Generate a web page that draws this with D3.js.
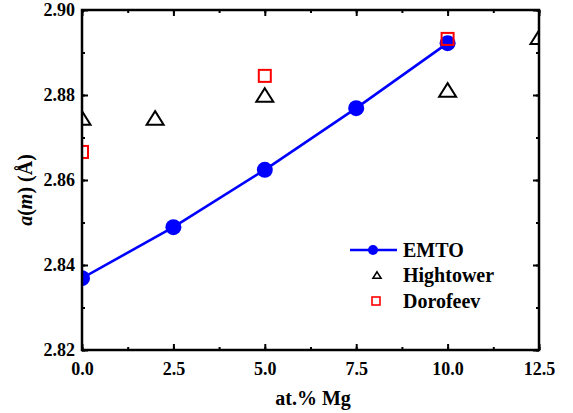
<!DOCTYPE html>
<html>
<head>
<meta charset="utf-8">
<script src="https://cdn.jsdelivr.net/npm/d3@7"></script>
<style>
  html, body { margin: 0; padding: 0; background: #fff; }
  svg { display: block; }
</style>
</head>
<body>
<svg id="chart" width="573" height="413"></svg>
<script>
// Lattice parameter vs. Mg content
const emtoX = [0, 2.5, 5.0, 7.5, 10.0];
const emtoY = [2.8369, 2.8489, 2.8624, 2.8769, 2.8922];
const hightowerX = [0, 2, 5, 10, 12.5];
const hightowerY = [2.8746, 2.8746, 2.8800, 2.8812, 2.8936];
const dorofeevX = [0, 5, 10];
const dorofeevY = [2.8666, 2.8845, 2.8932];
const xTicks = [0, 2.5, 5.0, 7.5, 10.0, 12.5];
const yTicks = [2.82, 2.84, 2.86, 2.88, 2.90];
const seriesNames = ["EMTO", "Hightower", "Dorofeev"];

const svg = d3.select("#chart");
const m = { left: 82, top: 10, right: 539, bottom: 350 };
const x = d3.scaleLinear().domain([0, 12.5]).range([m.left, m.right]);
const y = d3.scaleLinear().domain([2.82, 2.90]).range([m.bottom, m.top]);
const font = "Liberation Serif";
const blue = "#0000ff";

svg.append("defs").append("clipPath").attr("id", "plot")
  .append("rect").attr("x", m.left).attr("y", m.top)
  .attr("width", m.right - m.left).attr("height", m.bottom - m.top);

const data = svg.append("g").attr("clip-path", "url(#plot)");

// EMTO line and points
const emto = emtoX.map((v, i) => [v, emtoY[i]]);
data.append("path").datum(emto)
  .attr("d", d3.line().x(d => x(d[0])).y(d => y(d[1])))
  .attr("fill", "none").attr("stroke", blue).attr("stroke-width", 2.6);
data.selectAll("circle.emto").data(emto).join("circle")
  .attr("cx", d => x(d[0])).attr("cy", d => y(d[1])).attr("r", 8)
  .attr("fill", blue);

// Hightower triangles
const tri = (cx, cy, w) => {
  const h = w * 0.8;
  return `M${cx},${cy - h / 2}L${cx + w / 2},${cy + h / 2}L${cx - w / 2},${cy + h / 2}Z`;
};
data.selectAll("path.ht").data(hightowerX.map((v, i) => [v, hightowerY[i]])).join("path")
  .attr("d", d => tri(x(d[0]), y(d[1]), 17))
  .attr("fill", "none").attr("stroke", "#000").attr("stroke-width", 2);

// Dorofeev squares
data.selectAll("rect.df").data(dorofeevX.map((v, i) => [v, dorofeevY[i]])).join("rect")
  .attr("x", d => x(d[0]) - 6).attr("y", d => y(d[1]) - 6)
  .attr("width", 12).attr("height", 12)
  .attr("fill", "none").attr("stroke", "#ff0000").attr("stroke-width", 2);

// Axes: inward major + minor ticks on all four sides
const xMinor = d3.range(0, 12.51, 1.25);
const yMinor = d3.range(0, 9).map(i => 2.82 + i * 0.01);
function styleAxis(g) {
  g.attr("font-family", font);
  g.select(".domain").remove();
  g.selectAll(".tick line").attr("stroke", "#000").attr("stroke-width", 2);
}
svg.append("g").attr("transform", `translate(0,${m.bottom})`)
  .call(d3.axisBottom(x).tickValues(xMinor).tickSize(-3).tickFormat("")).call(styleAxis);
svg.append("g").attr("transform", `translate(0,${m.bottom})`)
  .call(d3.axisBottom(x).tickValues(xTicks).tickSizeInner(-6).tickSizeOuter(0).tickFormat(d3.format(".1f")))
  .call(styleAxis)
  .call(g => g.selectAll("text").attr("font-size", 18).attr("font-weight", "bold").attr("fill", "#000")
    .attr("font-family", font).attr("dy", "0.71em").attr("y", 12));
svg.append("g").attr("transform", `translate(0,${m.top})`)
  .call(d3.axisTop(x).tickValues(xMinor).tickSize(-3).tickFormat("")).call(styleAxis);
svg.append("g").attr("transform", `translate(0,${m.top})`)
  .call(d3.axisTop(x).tickValues(xTicks).tickSize(-6).tickFormat("")).call(styleAxis);

svg.append("g").attr("transform", `translate(${m.left},0)`)
  .call(d3.axisLeft(y).tickValues(yMinor).tickSize(-3).tickFormat("")).call(styleAxis);
svg.append("g").attr("transform", `translate(${m.left},0)`)
  .call(d3.axisLeft(y).tickValues(yTicks).tickSizeInner(-6).tickSizeOuter(0).tickFormat(d3.format(".2f")))
  .call(styleAxis)
  .call(g => g.selectAll("text").attr("font-size", 18).attr("font-weight", "bold").attr("fill", "#000")
    .attr("font-family", font).attr("x", -7));
svg.append("g").attr("transform", `translate(${m.right},0)`)
  .call(d3.axisRight(y).tickValues(yMinor).tickSize(-3).tickFormat("")).call(styleAxis);
svg.append("g").attr("transform", `translate(${m.right},0)`)
  .call(d3.axisRight(y).tickValues(yTicks).tickSize(-6).tickFormat("")).call(styleAxis);

// Frame
svg.append("rect").attr("x", m.left).attr("y", m.top)
  .attr("width", m.right - m.left).attr("height", m.bottom - m.top)
  .attr("fill", "none").attr("stroke", "#000").attr("stroke-width", 2.5);

// Axis titles
svg.append("text").attr("x", 313).attr("y", 405).attr("text-anchor", "middle")
  .attr("font-family", font).attr("font-weight", "bold").attr("font-size", 20)
  .text("at.% Mg");
const yl = svg.append("text").attr("transform", "translate(32,190) rotate(-90)")
  .attr("text-anchor", "middle").attr("font-family", font).attr("font-weight", "bold").attr("font-size", 20);
yl.append("tspan").attr("font-style", "italic").text("a");
yl.append("tspan").text("(");
yl.append("tspan").attr("font-style", "italic").text("m");
yl.append("tspan").text(") (Å)");

// Legend
const lg = svg.append("g");
const rows = [250, 275, 301];
lg.append("line").attr("x1", 350).attr("x2", 397).attr("y1", rows[0]).attr("y2", rows[0])
  .attr("stroke", blue).attr("stroke-width", 2.6);
lg.append("circle").attr("cx", 373).attr("cy", rows[0]).attr("r", 5).attr("fill", blue);
lg.append("path").attr("d", tri(377, rows[1], 8)).attr("fill", "none").attr("stroke", "#000").attr("stroke-width", 1.6);
lg.append("rect").attr("x", 372).attr("y", rows[2] - 4).attr("width", 8).attr("height", 8)
  .attr("fill", "none").attr("stroke", "#ff0000").attr("stroke-width", 1.6);
lg.selectAll("text").data(seriesNames).join("text")
  .attr("x", 403).attr("y", (d, i) => rows[i]).attr("dy", "0.35em")
  .attr("font-family", font).attr("font-weight", "bold").attr("font-size", 20)
  .text(d => d);
</script>
</body>
</html>
